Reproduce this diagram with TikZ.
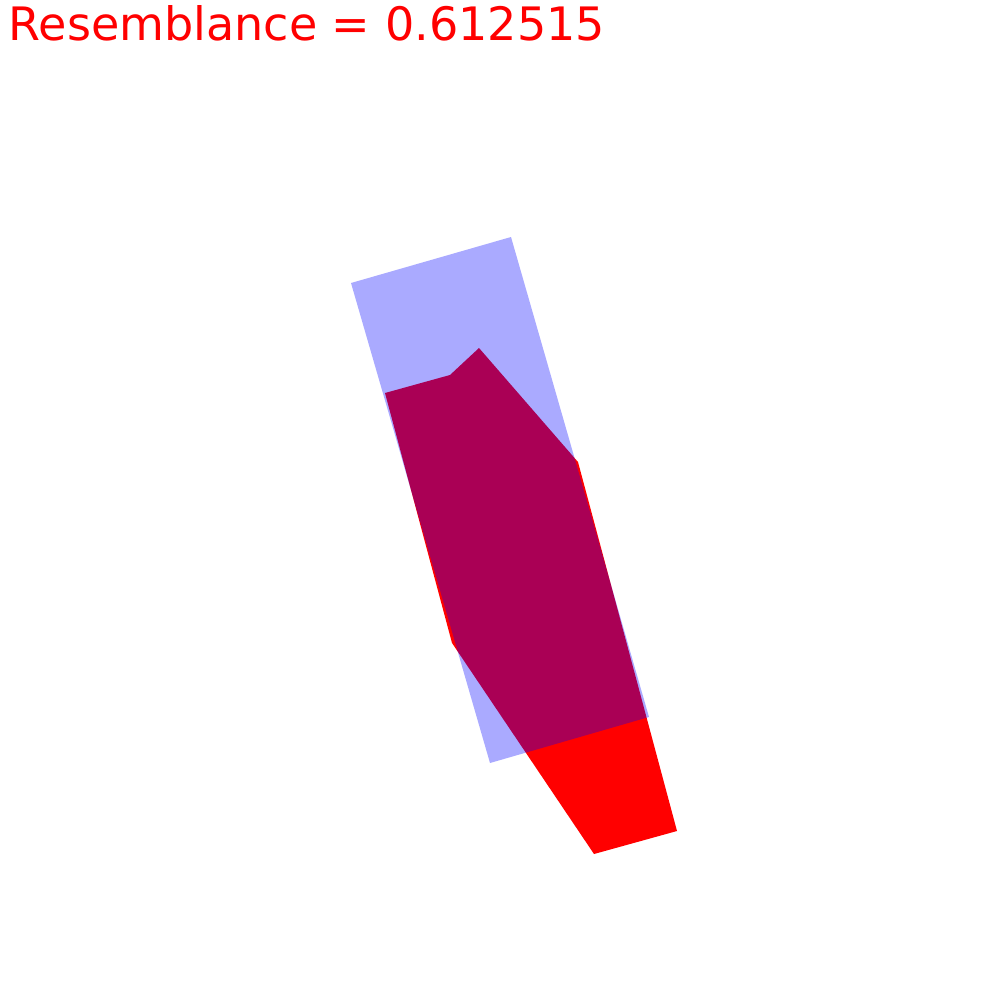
\documentclass[tikz,border=0pt]{standalone}
\usepackage{fontspec}
\newfontfamily\scorefont{DejaVu Sans}
\begin{document}
\begin{tikzpicture}[
  x=0.01cm,y=-0.01cm,
  target/.style={fill=red,draw=none},
  guess/.style={fill=blue,fill opacity=0.333,draw=none},
  score/.style={font=\scorefont\fontsize{13.1pt}{15pt}\selectfont,text=red,anchor=base west,inner sep=0pt},
]
\useasboundingbox (0,0) rectangle (1000,1000);
\fill[white] (0,0) rectangle (1000,1000);
\node[score] (score) at (8,40) {Resemblance = 0.612515};
\path[target] (385,393)--(450,375)--(479,348)--(578,462)--(677,831)--(594,854)--(452,643)--cycle;
\path[guess] (351,283)--(511,237)--(649,717)--(490,763)--cycle;
\end{tikzpicture}
\end{document}
